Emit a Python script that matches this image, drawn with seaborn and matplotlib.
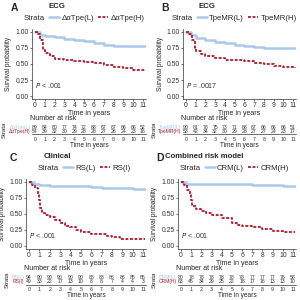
import numpy as np
import pandas as pd
import matplotlib
matplotlib.use("Agg")
import matplotlib.pyplot as plt
from matplotlib.lines import Line2D
import seaborn as sns

# ---------------- data ----------------
panel_letters = ["A", "B", "C", "D"]
panel_titles = ["ECG", "ECG", "Clinical", "Combined risk model"]
low_labels = ["ΔαTpe(L)", "TpeMR(L)", "RS(L)", "CRM(L)"]
high_labels = ["ΔαTpe(H)", "TpeMR(H)", "RS(I)", "CRM(H)"]
p_texts = ["< .001", "= .0017", "< .001", "< .001"]

risk_times = list(range(12))
risk_low = [
    [89, 84, 80, 77, 74, 72, 68, 67, 67, 66, 66, 52],
    [90, 81, 78, 75, 73, 71, 68, 67, 66, 66, 66, 51],
    [94, 90, 90, 90, 90, 90, 88, 88, 86, 86, 85, 65],
    [80, 78, 78, 78, 78, 78, 78, 77, 77, 77, 76, 58],
]
risk_high = [
    [54, 39, 32, 30, 29, 28, 28, 27, 26, 24, 23, 16],
    [53, 42, 34, 32, 30, 29, 28, 27, 27, 24, 23, 17],
    [49, 33, 22, 17, 13, 10, 8, 8, 7, 4, 4, 3],
    [63, 45, 34, 29, 25, 22, 18, 17, 16, 13, 13, 10],
]

# Kaplan-Meier step curves (time, survival)
low_t = [
    [0, 0.5, 1, 2, 3, 4, 5, 6, 7, 8, 11.2],
    [0, 0.5, 1, 2, 3, 4, 5, 6, 7, 8, 9, 11.2],
    [0, 0.5, 1, 2, 5, 6, 7, 8, 10, 11.2],
    [0, 0.5, 1, 7, 8, 10, 11.2],
]
low_s = [
    [1.0, 0.96, 0.93, 0.92, 0.895, 0.88, 0.86, 0.83, 0.80, 0.785, 0.785],
    [1.0, 0.96, 0.90, 0.875, 0.845, 0.83, 0.80, 0.78, 0.765, 0.755, 0.75, 0.75],
    [1.0, 0.97, 0.95, 0.94, 0.93, 0.92, 0.91, 0.90, 0.885, 0.885],
    [1.0, 0.975, 0.965, 0.955, 0.95, 0.94, 0.94],
]
high_t = [
    [0, 0.3, 0.5, 0.8, 1, 1.5, 2, 3, 4, 5, 6, 7, 8, 9, 10, 11.2],
    [0, 0.3, 0.6, 0.9, 1, 1.5, 2, 3, 4, 5, 6, 7, 8, 9, 10, 11.2],
    [0, 0.3, 0.6, 0.9, 1, 1.1, 1.3, 1.5, 2, 2.5, 3, 3.5, 4, 4.5, 5, 6, 7, 7.5, 8, 8.8, 11.2],
    [0, 0.3, 0.6, 0.9, 1, 1.1, 1.5, 2, 2.5, 3, 4, 5, 5.5, 6, 7, 8, 9, 10, 11.2],
]
high_s = [
    [1.0, 0.97, 0.88, 0.72, 0.67, 0.62, 0.58, 0.56, 0.54, 0.53, 0.51, 0.48, 0.46, 0.43, 0.41, 0.41],
    [1.0, 0.97, 0.88, 0.75, 0.70, 0.65, 0.63, 0.60, 0.57, 0.56, 0.54, 0.51, 0.50, 0.47, 0.45, 0.44],
    [1.0, 0.96, 0.90, 0.82, 0.72, 0.60, 0.52, 0.49, 0.45, 0.40, 0.36, 0.31, 0.29, 0.25, 0.22, 0.19, 0.18, 0.16, 0.14, 0.11, 0.11],
    [1.0, 0.96, 0.88, 0.80, 0.72, 0.63, 0.58, 0.55, 0.52, 0.49, 0.43, 0.36, 0.33, 0.31, 0.29, 0.26, 0.23, 0.22, 0.22],
]

# ---------------- style ----------------
sns.set_theme(style="ticks")
plt.rcParams["font.family"] = ["Liberation Sans", "DejaVu Sans"]
BLUE = "#a9c9ea"
RED = "#b2182b"
DASH = (0, (1.6, 0.9))

W, H = 300, 300
fig = plt.figure(figsize=(3, 3), dpi=100)
fig.patch.set_facecolor("white")


def rect(x0, y0, x1, y1):
    return [x0 / W, 1 - y1 / H, (x1 - x0) / W, (y1 - y0) / H]


def ftext(x, y, s, **kw):
    fig.text(x / W, 1 - y / H, s, **kw)


zero_px = [35, 36, 29, 31]
title_x = [57, 57, 57, 54]
letter_x = [11, 11, 10, 6]
right_px = 143

for i in range(4):
    ox = 150 * (i % 2)
    oy = 150 * (i // 2)
    x0 = ox + zero_px[i]
    x11 = ox + right_px
    scale = (x11 - x0) / 11
    left = x0 - 3
    rightedge = x11 + 3
    xlim = (-3 / scale, 11 + 3 / scale)

    # panel letter and title
    ftext(ox + letter_x[i], oy + 8, panel_letters[i], fontsize=7.5, fontweight="bold", va="center")
    ftext(ox + title_x[i], oy + 7, panel_titles[i], fontsize=5.6, fontweight="bold",
          ha="center", va="center")

    # main KM axes
    ax = fig.add_axes(rect(left, oy + 29, rightedge, oy + 99))
    dlow = pd.DataFrame({"time": low_t[i], "surv": low_s[i]})
    dhigh = pd.DataFrame({"time": high_t[i], "surv": high_s[i]})
    sns.lineplot(data=dlow, x="time", y="surv", ax=ax, color=BLUE, linewidth=1.8,
                 drawstyle="steps-post", estimator=None)
    sns.lineplot(data=dhigh, x="time", y="surv", ax=ax, color=RED, linewidth=1.3,
                 linestyle=DASH, drawstyle="steps-post", estimator=None)
    ax.set_xlim(*xlim)
    ax.set_ylim(-3 / 64, 1 + 3 / 64)
    ax.set_xticks(range(12))
    ax.set_yticks([0, 0.25, 0.5, 0.75, 1.0])
    ax.set_yticklabels(["0.00", "0.25", "0.50", "0.75", "1.00"])
    ax.tick_params(labelsize=4.9, length=1.5, width=0.5, pad=1, colors="#333333")
    ax.set_xlabel("Time in years", fontsize=5.0, labelpad=0.5)
    ax.set_ylabel("Survival probability", fontsize=4.7, labelpad=2)
    for s in ["top", "right"]:
        ax.spines[s].set_visible(False)
    for s in ["left", "bottom"]:
        ax.spines[s].set_linewidth(0.5)
        ax.spines[s].set_color("#333333")
    ax.text(0.0, 0.13, "$P$ " + p_texts[i], fontsize=5.0, color="#333333")

    # legend row
    handles = [Line2D([], [], color="none"),
               Line2D([], [], color=BLUE, linewidth=1.8),
               Line2D([], [], color=RED, linewidth=1.3, linestyle=DASH)]
    fig.legend(handles, ["Strata", low_labels[i], high_labels[i]],
               loc="center", bbox_to_anchor=((ox + 78) / W, 1 - (oy + 18) / H),
               ncol=3, frameon=False, fontsize=5.6, handlelength=1.3,
               handletextpad=0.3, columnspacing=0.5, borderpad=0)

    # risk table
    tx = fig.add_axes(rect(left, oy + 124.5, rightedge, oy + 134.5))
    tx.set_xlim(*xlim)
    tx.set_ylim(-0.75, 1.75)
    for t, n in zip(risk_times, risk_low[i]):
        tx.text(t, 1, str(n), ha="center", va="center", fontsize=3.7, color="#333333")
    for t, n in zip(risk_times, risk_high[i]):
        tx.text(t, 0, str(n), ha="center", va="center", fontsize=3.7, color="#333333")
    tx.set_xticks(range(12))
    tx.set_yticks([1, 0])
    tx.set_yticklabels([low_labels[i], high_labels[i]])
    for lab, c in zip(tx.get_yticklabels(), [BLUE, RED]):
        lab.set_color(c)
    tx.tick_params(axis="y", length=0, labelsize=3.6, pad=1)
    tx.tick_params(axis="x", length=0, labelsize=3.8, pad=1.5, colors="#333333")
    tx.set_xlabel("Time in years", fontsize=4.7, labelpad=0.5)
    tx.set_ylabel("Strata", fontsize=4.4, labelpad=1.5)
    for s in ["top", "right", "left"]:
        tx.spines[s].set_visible(False)
    tx.spines["bottom"].set_linewidth(0.5)
    tx.spines["bottom"].set_color("#333333")
    ftext(left - 2, oy + 118, "Number at risk", fontsize=5.0, va="center", color="#222222")

fig.savefig("out.png", dpi=100, facecolor="white")
